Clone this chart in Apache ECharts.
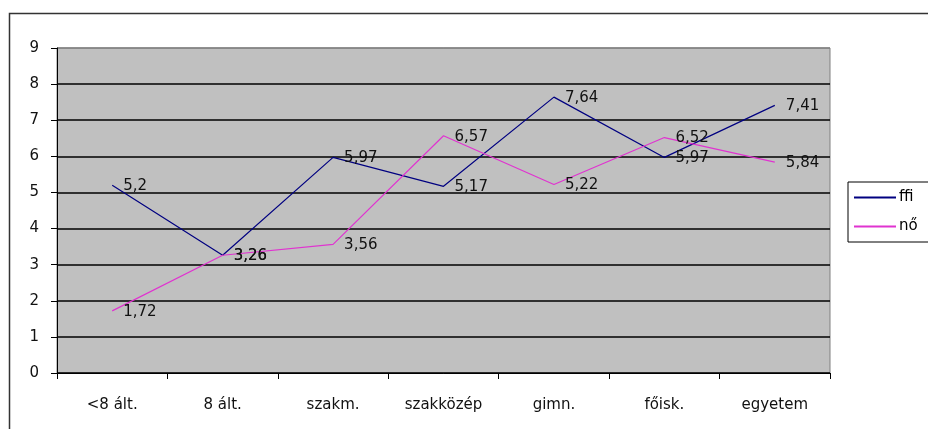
<!DOCTYPE html>
<html>
<head>
<meta charset="utf-8">
<script src="https://cdn.jsdelivr.net/npm/echarts@6/dist/echarts.min.js"></script>
<style>
  html, body { margin: 0; padding: 0; background: #fff; }
  #chart { width: 928px; height: 429px; }
</style>
</head>
<body>
<div id="chart"></div>
<script>
// Education level categories and average values per group
const categories = ['<8 ált.', '8 ált.', 'szakm.', 'szakközép', 'gimn.', 'főisk.', 'egyetem'];
const ffiValues = [5.2, 3.26, 5.97, 5.17, 7.64, 5.97, 7.41];
const noValues = [1.72, 3.26, 3.56, 6.57, 5.22, 6.52, 5.84];
const yTicks = { min: 0, max: 9, interval: 1 };

const font = 'DejaVu Sans, Verdana, sans-serif';
const fontSize = 15;
const fmt = p => String(p.value).replace('.', ',');

const chart = echarts.init(document.getElementById('chart'), null, { renderer: 'canvas' });

function lineSeries(name, data, color) {
  return {
    name: name,
    type: 'line',
    data: data,
    symbol: 'circle',
    symbolSize: 0.1,
    showSymbol: true,
    itemStyle: { color: color },
    lineStyle: { color: color, width: 1.2 },
    label: {
      show: true,
      position: 'right',
      distance: 11,
      offset: [0, 1],
      formatter: fmt,
      color: '#111',
      fontFamily: font,
      fontSize: fontSize
    },
    emphasis: { disabled: true },
    animation: false
  };
}

// Split lines: black for interior grid, grey for the top border line at 9
const splitColors = ['#000', '#000', '#000', '#000', '#000', '#000', '#000', '#000', '#000', '#808080'];

chart.setOption({
  backgroundColor: '#fff',
  animation: false,
  graphic: [{
    type: 'rect',
    shape: { x: 9.5, y: 13.5, width: 940, height: 440 },
    style: { fill: 'none', stroke: '#333', lineWidth: 1.5 },
    silent: true,
    z: 100
  }],
  grid: {
    left: 57, right: 98, top: 48, bottom: 56,
    show: true,
    backgroundColor: '#c0c0c0',
    borderColor: '#808080',
    borderWidth: 1
  },
  legend: {
    orient: 'vertical',
    left: 848,
    top: 182,
    width: 100,
    itemWidth: 42,
    itemHeight: 2,
    itemGap: 14,
    padding: [8, 30, 8, 6],
    borderColor: '#000',
    borderWidth: 1,
    backgroundColor: '#fff',
    icon: 'rect',
    textStyle: { fontFamily: font, fontSize: fontSize, color: '#000', padding: [0, 0, 0, -2] },
    data: ['ffi', 'nő']
  },
  xAxis: {
    type: 'category',
    data: categories,
    boundaryGap: true,
    axisLine: { lineStyle: { color: '#000', width: 1 } },
    axisTick: { show: true, length: 6, lineStyle: { color: '#000' } },
    axisLabel: { color: '#111', fontFamily: font, fontSize: fontSize, margin: 25 },
    splitLine: { show: false }
  },
  yAxis: {
    type: 'value',
    min: yTicks.min,
    max: yTicks.max,
    interval: yTicks.interval,
    axisLine: { show: true, lineStyle: { color: '#000', width: 1 } },
    axisTick: { show: true, length: 6, lineStyle: { color: '#000' } },
    axisLabel: { color: '#111', fontFamily: font, fontSize: fontSize, margin: 18 },
    splitLine: { show: true, lineStyle: { color: splitColors, width: 1.5 } }
  },
  series: [
    lineSeries('ffi', ffiValues, '#000080'),
    lineSeries('nő', noValues, '#e033d0')
  ]
});
</script>
</body>
</html>
